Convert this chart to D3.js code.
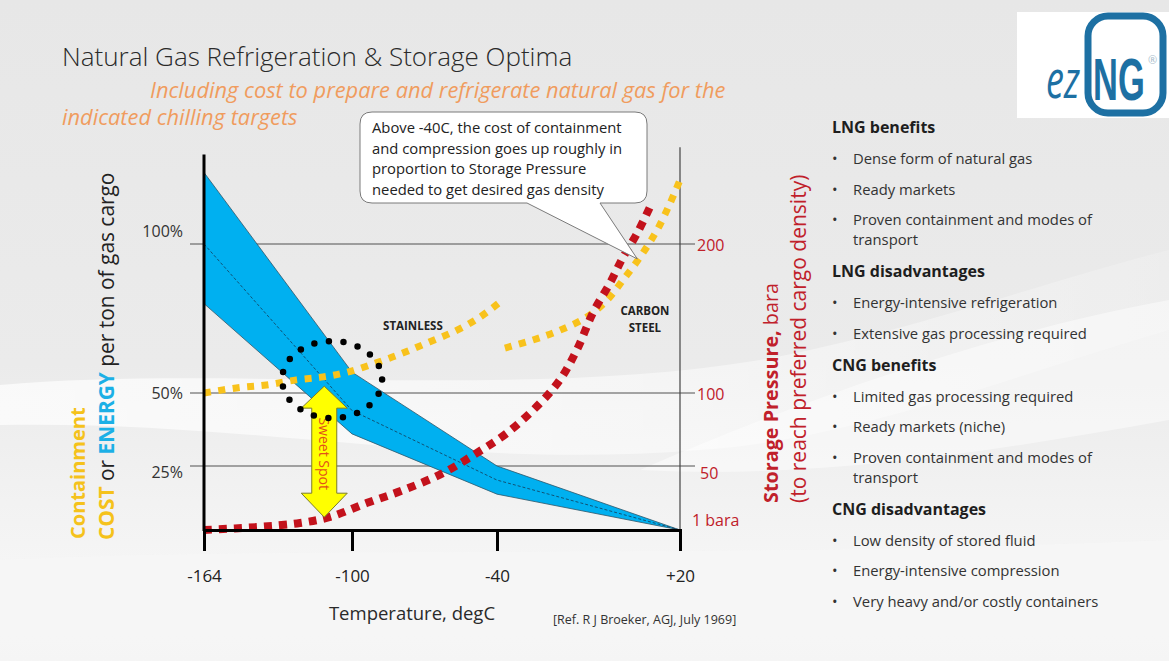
<!DOCTYPE html>
<html><head><meta charset="utf-8">
<script src="https://cdn.jsdelivr.net/npm/d3@7"></script>
<style>
html,body{margin:0;padding:0;background:#e9e9e9;}
svg{display:block;font-family:"Open Sans","Lato",sans-serif;}
</style></head>
<body><svg id="c" width="1169" height="661"></svg>
<script>
// ---------- DATA ----------
const xTicks = [-164, -100, -40, 20];
const costTicks = [25, 50, 100];
const pressureTicks = [1, 50, 100, 200];

const bandTemp    = [-164, -100, -40, 20];
const energyUpper = [124, 57, 25, 0];
const energyLower = [80, 36, 14, 0];
const energyMid   = [100, 44, 19.5, 0];

const stainlessTemp = [-164, -150, -137, -124, -112.5, -102, -90, -79, -68, -56.5, -47, -39];
const stainlessCost = [50, 51.7, 52.7, 54.4, 55.4, 57, 60.1, 63.4, 67.1, 71.1, 75.5, 80.5];

const carbonTemp = [-37.4, -28.2, -19.3, -10.5, -3.9, 1.3, 6.9, 12.5, 16.8, 20];
const carbonCost = [65.1, 67.8, 71.1, 75.5, 81.2, 87.9, 95.6, 104.7, 113.8, 121.5];

const pressureTemp = [-164, -141, -122.5, -109.5, -94, -79, -62.3, -48.3, -36.7, -25.9, -19.3, -13.8, -8.5, -2.9, 1.3, 5.9, 10.2];
const pressureBara = [0, 2.3, 5.5, 10.2, 21, 31, 44.5, 59, 72.6, 93, 109, 129, 154, 174, 191, 207, 225];

const calloutLines = [
  "Above -40C, the cost of containment",
  "and compression goes up roughly in",
  "proportion to Storage Pressure",
  "needed to get desired gas density"
];
const calloutTarget = [6, 95];      // temperature, cost %
const sweetSpotTemp = -112;
const sweetSpotRange = [52.3, 5];   // cost %
const sweetSpotCircle = [-108.6, 54.5];

const panelSections = [
  {h: "LNG benefits", items: [["Dense form of natural gas"], ["Ready markets"], ["Proven containment and modes of", "transport"]]},
  {h: "LNG disadvantages", items: [["Energy-intensive  refrigeration"], ["Extensive gas processing  required"]]},
  {h: "CNG benefits", items: [["Limited gas processing  required"], ["Ready markets (niche)"], ["Proven containment and modes of", "transport"]]},
  {h: "CNG disadvantages", items: [["Low density of stored fluid"], ["Energy-intensive  compression"], ["Very heavy and/or costly containers"]]}
];

// ---------- SETUP ----------
const svg = d3.select("#c");
const W = 1169, H = 661;
const defs = svg.append("defs");
const bg = defs.append("linearGradient").attr("id","bg").attr("x1",0).attr("y1",0).attr("x2",0).attr("y2",1);
bg.append("stop").attr("offset","0").attr("stop-color","#e7e7e7");
bg.append("stop").attr("offset","0.55").attr("stop-color","#ebebeb");
bg.append("stop").attr("offset","0.85").attr("stop-color","#f5f5f5");
bg.append("stop").attr("offset","1").attr("stop-color","#f1f1f1");
svg.append("rect").attr("width",W).attr("height",H).attr("fill","url(#bg)");
const sw = defs.append("linearGradient").attr("id","sw").attr("x1",0).attr("y1",0).attr("x2",1).attr("y2",0);
sw.append("stop").attr("offset","0").attr("stop-color","#fff").attr("stop-opacity",0.9);
sw.append("stop").attr("offset","0.6").attr("stop-color","#fff").attr("stop-opacity",0.6);
sw.append("stop").attr("offset","1").attr("stop-color","#fff").attr("stop-opacity",0.2);
svg.append("path").attr("d","M0,385 C220,365 520,400 760,360 C900,335 1050,280 1169,250 L1169,330 C1000,380 850,440 700,450 C450,470 250,420 0,425 Z")
  .attr("fill","url(#sw)").attr("opacity",0.8);
svg.append("path").attr("d","M0,560 C300,545 700,560 1169,540 L1169,661 L0,661 Z").attr("fill","#f6f6f6").attr("opacity",0.8);
svg.append("path").attr("d","M640,470 C800,400 1000,330 1169,300 L1169,420 C1000,450 820,480 640,470 Z").attr("fill","#fff").attr("opacity",0.45);

// scales
const x = d3.scaleLinear().domain(xTicks).range([204, 352, 497, 680]);
const y = d3.scaleLinear().domain([0, 25, 50, 100]).range([530, 466, 393, 244]);
const yP = d3.scaleLinear().domain([0, 50, 100, 200]).range([530, 466, 393, 244]);

// ---------- TITLE ----------
svg.append("text").attr("x",62).attr("y",66).attr("font-size",26).attr("font-weight",300).attr("fill","#2a2a2a")
  .text("Natural Gas Refrigeration & Storage Optima");
svg.append("text").attr("x",150).attr("y",98).attr("font-size",21.8).attr("font-style","italic").attr("fill","#f09c5e")
  .text("Including cost to prepare and refrigerate natural gas for the");
svg.append("text").attr("x",62).attr("y",125).attr("font-size",21.8).attr("font-style","italic").attr("fill","#f09c5e")
  .text("indicated chilling targets");

// ---------- LOGO ----------
svg.append("rect").attr("x",1017).attr("y",12).attr("width",152).attr("height",106).attr("fill","#fff");
svg.append("rect").attr("x",1088).attr("y",16).attr("width",75).attr("height",97).attr("rx",20)
  .attr("fill","none").attr("stroke","#1d70a3").attr("stroke-width",7);
svg.append("g").attr("transform","translate(1046,98) scale(1,1.45)")
  .append("text").attr("font-size",36).attr("font-style","italic").attr("fill","#1d70a3").text("ez");
svg.append("g").attr("transform","translate(1093,100) scale(1,1.7)")
  .append("text").attr("font-size",34.5).attr("font-weight",700).attr("font-family","Liberation Sans, Arial, sans-serif")
  .attr("fill","#1d70a3").text("NG");
svg.append("text").attr("x",1148).attr("y",64).attr("font-size",11).attr("fill","#a8bccb").text("®");

// ---------- GRID ----------
const grid = svg.append("g");
grid.selectAll("line").data(costTicks).join("line")
  .attr("x1", x(-164) - 14).attr("x2", x(20) + 15)
  .attr("y1", d => y(d)).attr("y2", d => y(d))
  .attr("stroke","#505050").attr("stroke-width",1);

svg.append("line").attr("x1",x(20)).attr("x2",x(20)).attr("y1",yP(265)).attr("y2",y(0))
  .attr("stroke","#444").attr("stroke-width",1.2);

// ---------- ENERGY BAND ----------
const bandData = bandTemp.map((t,i)=>({t, hi: energyUpper[i], lo: energyLower[i], mid: energyMid[i]}));
svg.append("path").datum(bandData)
  .attr("d", d3.area().x(d=>x(d.t)).y0(d=>y(d.lo)).y1(d=>y(d.hi)))
  .attr("fill","#00b0f0").attr("stroke","#2d5668").attr("stroke-width",0.8);
svg.append("path").datum(bandData)
  .attr("d", d3.line().x(d=>x(d.t)).y(d=>y(d.mid)))
  .attr("fill","none").attr("stroke","#143a55").attr("stroke-width",0.8).attr("stroke-dasharray","3,2");

// ---------- DOTTED CURVES ----------
const curve = d3.line().curve(d3.curveCatmullRom.alpha(0.5));
svg.append("path").datum(stainlessTemp.map((t,i)=>[x(t), y(stainlessCost[i])]))
  .attr("d", curve).attr("fill","none").attr("stroke","#f8c21c").attr("stroke-width",7).attr("stroke-dasharray","7,7.5");
svg.append("path").datum(carbonTemp.map((t,i)=>[x(t), y(carbonCost[i])]))
  .attr("d", curve).attr("fill","none").attr("stroke","#f8c21c").attr("stroke-width",7).attr("stroke-dasharray","7,7.5");
svg.append("path").datum(pressureTemp.map((t,i)=>[x(t), yP(pressureBara[i])]))
  .attr("d", curve).attr("fill","none").attr("stroke","#c3121c").attr("stroke-width",8).attr("stroke-dasharray","8,7");

// ---------- SWEET SPOT ----------
const cx = x(sweetSpotTemp), yT = y(sweetSpotRange[0]), yB = y(sweetSpotRange[1]);
const hw = 23, sh = 12.5, hl = 22;
const arrow = d3.path();
arrow.moveTo(cx, yT); arrow.lineTo(cx+hw, yT+hl); arrow.lineTo(cx+sh, yT+hl); arrow.lineTo(cx+sh, yB-hl-2);
arrow.lineTo(cx+hw, yB-hl-2); arrow.lineTo(cx, yB); arrow.lineTo(cx-hw, yB-hl-2); arrow.lineTo(cx-sh, yB-hl-2);
arrow.lineTo(cx-sh, yT+hl); arrow.lineTo(cx-hw, yT+hl); arrow.closePath();
svg.append("path").attr("d", arrow.toString()).attr("fill","#ffff00").attr("stroke","#7c7c2a").attr("stroke-width",1);
svg.append("text").attr("transform",`translate(${cx-5},${(yT+yB)/2 + 2}) rotate(90)`).attr("text-anchor","middle")
  .attr("font-size",14).attr("fill","#e2501a").text("Sweet Spot");

svg.append("ellipse").attr("cx", x(sweetSpotCircle[0])).attr("cy", y(sweetSpotCircle[1])).attr("rx",50).attr("ry",38.5)
  .attr("fill","none").attr("stroke","#000").attr("stroke-width",6.5).attr("stroke-linecap","round").attr("stroke-dasharray","0,14.7");

// ---------- REGION LABELS ----------
svg.append("text").attr("x", x(-74.8)).attr("y", y(72.5)+4).attr("text-anchor","middle").attr("font-size",11.5).attr("font-weight",700).attr("fill","#222").text("STAINLESS");
svg.append("text").attr("x", x(8.5)).attr("y", y(77.5)+4).attr("text-anchor","middle").attr("font-size",11.5).attr("font-weight",700).attr("fill","#222").text("CARBON");
svg.append("text").attr("x", x(8.5)).attr("y", y(77.5)+21).attr("text-anchor","middle").attr("font-size",11.5).attr("font-weight",700).attr("fill","#222").text("STEEL");

// ---------- AXES ----------
const xAxis = svg.append("g").attr("transform",`translate(0,${y(0)})`)
  .call(d3.axisBottom(x).tickValues(xTicks).tickSize(21).tickPadding(19).tickFormat(d => d > 0 ? "+" + d : String(d)));
xAxis.select(".domain").attr("stroke","#000").attr("stroke-width",3);
xAxis.selectAll(".tick line").attr("stroke","#000").attr("stroke-width",3);
xAxis.selectAll(".tick text").attr("font-size",17).attr("fill","#222").attr("font-family","Open Sans, sans-serif");

svg.append("line").attr("x1",x(-164)).attr("x2",x(-164)).attr("y1",y(130)).attr("y2",y(0)+1)
  .attr("stroke","#000").attr("stroke-width",3);
const yAxis = svg.append("g").attr("transform",`translate(${x(-164)},0)`)
  .call(d3.axisLeft(y).tickValues(costTicks).tickSize(0).tickPadding(21).tickFormat(d => d + "%"));
yAxis.select(".domain").remove();
yAxis.selectAll(".tick text").attr("font-size",16).attr("fill","#333").attr("font-family","Open Sans, sans-serif")
  .attr("dy", d => d === 100 ? "-0.45em" : (d === 25 ? "0.72em" : "0.32em"));

const rAxis = svg.append("g").attr("transform",`translate(${x(20)},0)`)
  .call(d3.axisRight(yP).tickValues(pressureTicks).tickSize(0).tickPadding(17).tickFormat(d => d === 1 ? "1 bara" : String(d)));
rAxis.select(".domain").remove();
rAxis.selectAll(".tick text").attr("font-size",16).attr("fill","#c0202a").attr("font-family","Open Sans, sans-serif")
  .attr("dx", d => d === 1 ? -5 : (d === 50 ? 3 : 0))
  .attr("dy", d => d === 1 ? "-0.2em" : (d === 50 ? "0.75em" : "0.4em"));

// axis titles
const lt = svg.append("g").attr("transform","translate(85,539) rotate(-90)");
lt.append("text").attr("font-size",20).attr("font-weight",700).attr("fill","#f5c21b").text("Containment");
const lt2 = svg.append("g").attr("transform","translate(114,540) rotate(-90)");
const t2 = lt2.append("text").attr("font-size",20.9);
t2.append("tspan").attr("font-weight",700).attr("fill","#f5c21b").text("COST");
t2.append("tspan").attr("fill","#222").text(" or ");
t2.append("tspan").attr("font-weight",700).attr("fill","#1cb0e6").text("ENERGY");
t2.append("tspan").attr("fill","#222").text(" per ton of gas cargo");

const rt = svg.append("g").attr("transform","translate(778,503) rotate(-90)");
const r1 = rt.append("text").attr("font-size",19.8).attr("fill","#c0202a");
r1.append("tspan").attr("font-weight",700).text("Storage Pressure,");
r1.append("tspan").text(" bara");
svg.append("g").attr("transform","translate(806,503) rotate(-90)")
  .append("text").attr("font-size",21).attr("fill","#c0202a").text("(to reach preferred cargo density)");

svg.append("text").attr("x",412).attr("y",620).attr("text-anchor","middle").attr("font-size",18.5).attr("fill","#2a2a2a").text("Temperature, degC");
svg.append("text").attr("x",553).attr("y",624).attr("font-size",12.5).attr("fill","#333").text("[Ref. R J Broeker, AGJ, July 1969]");

// ---------- CALLOUT ----------
const tx = x(calloutTarget[0]), ty = y(calloutTarget[1]);
const L = 360, T = 112, R = 647, B = 203, rr = 12;
const cp = d3.path();
cp.moveTo(L+rr, T); cp.lineTo(R-rr, T); cp.quadraticCurveTo(R, T, R, T+rr); cp.lineTo(R, B-rr);
cp.quadraticCurveTo(R, B, R-rr, B); cp.lineTo(600, B); cp.lineTo(tx, ty); cp.lineTo(527, B);
cp.lineTo(L+rr, B); cp.quadraticCurveTo(L, B, L, B-rr); cp.lineTo(L, T+rr); cp.quadraticCurveTo(L, T, L+rr, T); cp.closePath();
svg.append("path").attr("d", cp.toString()).attr("fill","#fff").attr("stroke","#7a7a7a").attr("stroke-width",1);
svg.append("g").selectAll("text").data(calloutLines).join("text")
  .attr("x",372).attr("y",(d,i)=>133 + i*20.7).attr("font-size",14.8).attr("fill","#222").text(d=>d);

// ---------- RIGHT PANEL ----------
const panel = svg.append("g");
let py = 133;
panelSections.forEach((s, si) => {
  panel.append("text").attr("x",832).attr("y",py).attr("font-size",16).attr("font-weight",700).attr("fill","#1e1e1e").text(s.h);
  py += 31;
  s.items.forEach((lines, ii) => {
    if (ii > 0) py += 30.7;
    panel.append("text").attr("x",832).attr("y",py).attr("font-size",14.8).attr("fill","#333").text("•");
    lines.forEach((ln, li) => {
      if (li > 0) py += 19.5;
      panel.append("text").attr("x",853).attr("y",py).attr("font-size",14.8).attr("fill","#333").text(ln);
    });
  });
  py += 32;
});
</script></body></html>
